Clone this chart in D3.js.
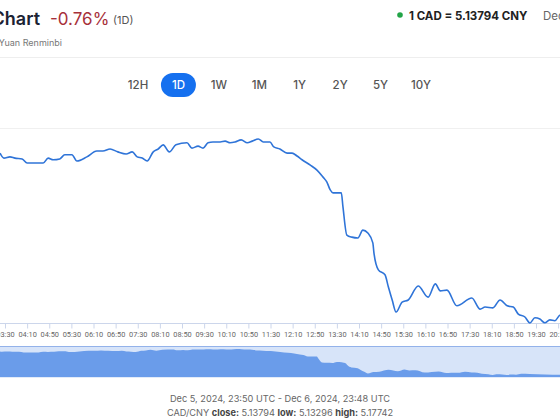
<!DOCTYPE html>
<html>
<head>
<meta charset="utf-8">
<script src="https://cdn.jsdelivr.net/npm/d3@7"></script>
<style>
  body { margin: 0; background: #fff; overflow: hidden; font-family: Inter, "Noto Sans", sans-serif; }
</style>
</head>
<body>
<div id="chart"></div>
<script>

// CAD/CNY, Dec 6 2024 (UTC)
const times = ["03:21","03:28","03:39","03:48","04:01","04:10","04:39","04:48","04:57","05:09",
               "05:18","05:31","05:40","05:58","06:16","06:27","06:40","06:54","07:09","07:20",
               "07:29","07:38","07:47","07:58","08:07","08:16","08:27","08:39","08:59","09:08",
               "09:19","09:28","09:37","09:46","09:59","10:08","10:17","10:26","10:37","10:48",
               "10:57","11:08","11:17","11:29","11:36","11:47","12:00","12:09","12:18","12:27",
               "12:42","12:54","13:05","13:12","13:18","13:23","13:38","13:41","13:48","13:57",
               "14:08","14:17","14:26","14:35","14:37","14:45","14:57","15:03","15:10","15:17",
               "15:28","15:39","15:57","16:15","16:28","16:37","16:49","17:07","17:34","17:49",
               "17:58","18:12","18:25","18:38","18:49","18:58","19:10","19:19","19:28","19:37",
               "19:46","19:55","20:04","20:14","20:30","21:00","21:30","22:00","22:30","23:00",
               "23:30","23:48"];
const rates = [5.1740,5.1728,5.1731,5.1728,5.1726,5.1716,5.1716,5.1728,5.1724,5.1726,
               5.1736,5.1736,5.1721,5.1731,5.1745,5.1745,5.1750,5.1743,5.1738,5.1743,
               5.1731,5.1728,5.1721,5.1743,5.1750,5.1760,5.1743,5.1760,5.1765,5.1752,
               5.1757,5.1752,5.1765,5.1767,5.1767,5.1769,5.1765,5.1767,5.1772,5.1765,
               5.1769,5.17742,5.1767,5.1767,5.1755,5.1750,5.1740,5.1740,5.1733,5.1724,
               5.1711,5.1699,5.1682,5.1670,5.1651,5.1644,5.1644,5.1610,5.1542,5.1537,
               5.1535,5.1554,5.1547,5.1523,5.1499,5.1458,5.1446,5.1417,5.1385,5.1356,
               5.1380,5.1385,5.1419,5.1392,5.1424,5.1407,5.1409,5.1371,5.1390,5.1363,
               5.1368,5.1366,5.1385,5.1371,5.1368,5.1351,5.1344,5.13296,5.1342,5.1339,
               5.1330,5.1337,5.1335,5.1349,5.1345,5.1338,5.1333,5.1340,5.1352,5.1365,
               5.1372,5.13794];

const tickLabels = ["03:30","04:10","04:50","05:30","06:10","06:50","07:30","08:10","08:50",
                    "09:30","10:10","10:50","11:30","12:10","12:50","13:30","14:10","14:50",
                    "15:30","16:10","16:50","17:30","18:10","18:50","19:30","20:10"];

const ranges = ["12H","1D","1W","1M","1Y","2Y","5Y","10Y"];
const activeRange = "1D";

const W = 560, H = 420;
const parse = d3.utcParse("%Y-%m-%d %H:%M");
const T = s => parse("2024-12-06 " + s);
const data = times.map((t, i) => ({date: T(t), rate: rates[i]}));

const svg = d3.select("#chart").append("svg")
    .attr("width", W)
    .attr("height", H)
    .style("display", "block")
    .style("font-family", "Inter, 'Noto Sans', sans-serif");

// header (page is wider than the window, left/right parts cut)
svg.append("text")
    .attr("x", 40).attr("y", 25)
    .attr("text-anchor", "end")
    .attr("font-size", 18).attr("font-weight", 600)
    .attr("fill", "#1b2233")
    .text("CAD to CNY Chart");

svg.append("text")
    .attr("x", 50).attr("y", 25)
    .attr("font-size", 17)
    .attr("fill", "#a7303a")
    .text("-0.76%");

svg.append("text")
    .attr("x", 113).attr("y", 24)
    .attr("font-size", 11)
    .attr("fill", "#555")
    .text("(1D)");

svg.append("text")
    .attr("x", 62).attr("y", 46)
    .attr("text-anchor", "end")
    .attr("font-size", 9)
    .attr("fill", "#777")
    .text("Canadian Dollar to Chinese Yuan Renminbi");

svg.append("circle")
    .attr("cx", 400).attr("cy", 15).attr("r", 2.8)
    .attr("fill", "#22a447");

svg.append("text")
    .attr("x", 409).attr("y", 19.5)
    .attr("font-size", 11.5).attr("font-weight", 700)
    .attr("fill", "#222")
    .text("1 CAD = 5.13794 CNY");

svg.append("text")
    .attr("x", 543).attr("y", 19.5)
    .attr("font-size", 11.5)
    .attr("fill", "#666")
    .text("Dec 6, 2024, 23:48 UTC");

svg.append("line")
    .attr("x1", 0).attr("x2", W)
    .attr("y1", 57.5).attr("y2", 57.5)
    .attr("stroke", "#eee");

// range buttons
const bx = d3.scalePoint().domain(ranges).range([138, 421]);

svg.append("rect")
    .attr("x", bx(activeRange) - 17.5).attr("y", 73)
    .attr("width", 35).attr("height", 24).attr("rx", 12)
    .attr("fill", "#1570ef");

svg.selectAll(".range")
    .data(ranges)
    .enter().append("text")
    .attr("class", "range")
    .attr("x", d => bx(d)).attr("y", 89)
    .attr("text-anchor", "middle")
    .attr("font-size", 11.5).attr("font-weight", 500)
    .attr("fill", d => d === activeRange ? "#fff" : "#555")
    .text(d => d);

// main chart
const x = d3.scaleUtc()
    .domain([T("03:30"), T("19:30")])
    .range([5, 536]);

const y = d3.scaleLinear()
    .domain([5.13, 5.18])
    .range([335.2, 128.3]);

const axisY = 323;

svg.selectAll(".grid")
    .data([5.18])
    .enter().append("line")
    .attr("class", "grid")
    .attr("x1", 0).attr("x2", W)
    .attr("y1", d => Math.round(y(d)) + 0.5)
    .attr("y2", d => Math.round(y(d)) + 0.5)
    .attr("stroke", "#f0f0f0");

svg.append("line")
    .attr("x1", 0).attr("x2", W)
    .attr("y1", axisY + 0.5).attr("y2", axisY + 0.5)
    .attr("stroke", "#ccd6eb");

const xAxis = d3.axisBottom(x)
    .tickValues(tickLabels.map(T))
    .tickFormat(d3.utcFormat("%H:%M"))
    .tickSize(5)
    .tickPadding(3);

const gx = svg.append("g")
    .attr("transform", "translate(0," + (axisY + 0.5) + ")")
    .call(xAxis);
gx.select(".domain").remove();
gx.selectAll("line").attr("stroke", "#ccd6eb");
gx.selectAll("text")
    .attr("fill", "#666")
    .attr("font-size", 7.4)
    .attr("font-family", "Roboto, 'Noto Sans', sans-serif");

svg.append("path")
    .datum(data)
    .attr("fill", "none")
    .attr("stroke", "#2f74d8")
    .attr("stroke-width", 1.6)
    .attr("stroke-linejoin", "round")
    .attr("d", d3.line()
        .curve(d3.curveMonotoneX)
        .x(d => x(d.date))
        .y(d => y(d.rate)));

// navigator
const navTop = 346, navBottom = 377;

const nx = d3.scaleUtc()
    .domain([T("03:30"), T("19:30")])
    .range([3, 498.5]);

const ny = d3.scaleLinear()
    .domain(d3.extent(rates))
    .range([375, 349]);

svg.append("rect")
    .attr("x", 0).attr("y", navTop)
    .attr("width", W).attr("height", navBottom - navTop)
    .attr("fill", "#d7e4f9");

svg.append("path")
    .datum(data)
    .attr("fill", "#6a9cea")
    .attr("d", d3.area()
        .curve(d3.curveMonotoneX)
        .x(d => nx(d.date))
        .y0(navBottom)
        .y1(d => ny(d.rate)));

svg.append("line")
    .attr("x1", 0).attr("x2", W)
    .attr("y1", navTop + 0.5).attr("y2", navTop + 0.5)
    .attr("stroke", "#93b2ea");

svg.append("line")
    .attr("x1", 0).attr("x2", W)
    .attr("y1", navBottom + 0.5).attr("y2", navBottom + 0.5)
    .attr("stroke", "#e2ebf9");

// footer
svg.append("text")
    .attr("x", 280).attr("y", 402)
    .attr("text-anchor", "middle")
    .attr("font-size", 9.2)
    .attr("fill", "#666")
    .text("Dec 5, 2024, 23:50 UTC - Dec 6, 2024, 23:48 UTC");

const foot = svg.append("text")
    .attr("x", 280).attr("y", 416)
    .attr("text-anchor", "middle")
    .attr("font-size", 9.2)
    .attr("fill", "#666");

[["CAD/CNY ", false], ["close:", true], [" 5.13794 ", false], ["low:", true],
 [" 5.13296 ", false], ["high:", true], [" 5.17742", false]].forEach(p => {
    foot.append("tspan")
        .attr("font-weight", p[1] ? 700 : 400)
        .attr("fill", p[1] ? "#444" : "#666")
        .style("white-space", "pre")
        .text(p[0]);
});

</script>
</body>
</html>
